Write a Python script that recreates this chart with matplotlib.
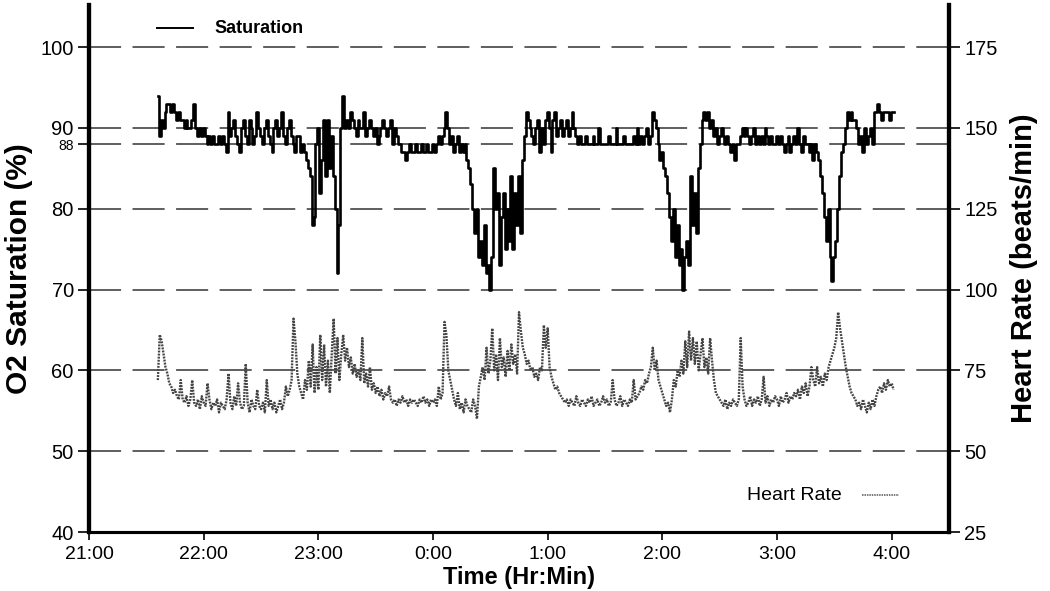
import numpy as np
import matplotlib
matplotlib.use('Agg')
import matplotlib.pyplot as plt

matplotlib.rcParams['font.family'] = ['Liberation Sans', 'DejaVu Sans']

# minutes after 21:00, one sample per minute (21:36 .. 4:01)
minutes = np.arange(36, 422)

# O2 saturation (%)
sat = [94, 89, 91, 90,
       92, 93, 93, 92, 93, 92, 91, 92, 91, 91,
       90, 91, 90, 90, 91, 93, 90, 89, 90, 89,
       90, 89, 88, 89, 88, 89, 88, 88, 89, 88,
       89, 88, 87, 92, 89, 90, 91, 89, 88, 87,
       90, 91, 89, 88, 91, 90, 88, 89, 92, 90,
       89, 88, 90, 91, 89, 88, 87, 90, 91, 89,
       90, 92, 89, 88, 90, 91, 89, 88, 87, 89,
       89, 87, 88, 87, 86, 85, 84, 78, 79, 88,
       90, 82, 86, 91, 84, 91, 85, 89, 84, 80,
       72, 78, 90, 94, 90, 91, 90, 92, 91, 90,
       89, 91, 90, 90, 92, 89, 90, 91, 90, 89,
       90, 88, 89, 90, 91, 90, 89, 90, 91, 88,
       90, 89, 88, 88, 87, 87, 86, 87, 88, 87,
       87, 88, 87, 87, 88, 87, 87, 88, 87, 87,
       88, 87, 88, 89, 88, 89, 90, 92, 90, 88,
       89, 87, 88, 89, 87, 88, 87, 88, 86, 85,
       83, 80, 77, 80, 74, 76, 73, 78, 72, 73,
       70, 74, 85, 80, 82, 73, 79, 82, 75, 80,
       76, 84, 75, 82, 78, 84, 77, 86, 89, 92,
       91, 90, 89, 88, 90, 91, 87, 90, 88, 91,
       92, 90, 87, 91, 92, 89, 90, 91, 89, 90,
       91, 89, 90, 92, 90, 89, 88, 89, 88, 88,
       89, 88, 88, 88, 89, 88, 88, 90, 88, 88,
       88, 88, 89, 88, 88, 88, 90, 88, 88, 88,
       89, 88, 88, 88, 88, 89, 88, 90, 88, 89,
       88, 89, 90, 88, 89, 92, 91, 90, 88, 86,
       87, 85, 84, 82, 79, 76, 80, 74, 78, 73,
       75, 70, 74, 76, 73, 84, 78, 82, 77, 85,
       88, 91, 92, 91, 92, 90, 91, 89, 90, 88,
       89, 90, 89, 88, 89, 88, 87, 88, 86, 88,
       88, 89, 90, 89, 90, 89, 88, 89, 90, 88,
       89, 88, 89, 88, 90, 89, 88, 89, 88, 88,
       89, 88, 89, 88, 87, 88, 89, 87, 88, 89,
       88, 90, 88, 87, 89, 88, 88, 87, 88, 86,
       88, 87, 86, 84, 82, 79, 76, 80, 74, 71,
       74, 76, 80, 84, 87, 88, 90, 92, 91, 92,
       91, 91, 90, 88, 89, 87, 90, 88, 89, 90,
       88, 92, 92, 93, 92, 91, 92, 92, 92, 91,
       92, 92]

# heart rate (beats/min)
hr = [72, 86, 84, 80,
      76, 74, 71, 70, 68, 69, 67, 66, 72, 66,
      65, 67, 64, 66, 72, 65, 64, 66, 63, 67,
      65, 64, 71, 66, 63, 65, 64, 66, 62, 65,
      64, 63, 66, 74, 65, 63, 67, 64, 71, 65,
      63, 64, 77, 65, 62, 66, 64, 63, 69, 64,
      63, 65, 62, 72, 64, 66, 63, 65, 62, 64,
      66, 63, 65, 70, 67, 69, 72, 91, 84, 74,
      70, 68, 66, 72, 69, 78, 70, 83, 68, 76,
      69, 86, 72, 83, 70, 78, 68, 80, 91, 74,
      85, 72, 80, 86, 78, 82, 76, 79, 74, 77,
      73, 75, 72, 85, 71, 74, 70, 76, 69, 71,
      68, 70, 67, 69, 66, 68, 67, 70, 66, 65,
      66, 64, 66, 65, 67, 65, 66, 64, 66, 65,
      66, 65, 64, 66, 65, 67, 65, 66, 64, 66,
      65, 66, 64, 70, 66, 68, 90, 86, 75, 72,
      69, 66, 64, 68, 63, 65, 62, 66, 64, 63,
      62, 66, 64, 60, 70, 73, 76, 72, 82, 74,
      78, 88, 75, 80, 72, 85, 76, 79, 73, 81,
      75, 83, 77, 80, 74, 93, 87, 82, 80, 77,
      78, 75, 76, 73, 74, 72, 76, 75, 89, 82,
      88, 76, 73, 71, 69, 70, 68, 67, 66, 65,
      66, 64, 66, 65, 64, 67, 65, 64, 66, 65,
      64, 66, 65, 67, 64, 65, 66, 64, 65, 67,
      65, 66, 64, 65, 72, 66, 64, 65, 67, 64,
      66, 65, 64, 66, 65, 72, 66, 67, 68, 70,
      69, 72, 71, 74, 76, 82, 75, 78, 72, 70,
      68, 66, 64, 65, 62, 66, 72, 70, 75, 73,
      78, 74, 84, 76, 87, 78, 85, 77, 84, 75,
      80, 85, 76, 79, 74, 85, 78, 72, 68, 67,
      66, 65, 64, 66, 63, 65, 64, 66, 65, 64,
      66, 85, 70, 66, 64, 65, 67, 64, 66, 65,
      67, 64, 66, 73, 65, 67, 64, 66, 65, 67,
      66, 64, 67, 65, 66, 68, 65, 67, 66, 68,
      67, 69, 66, 70, 68, 71, 67, 70, 76, 72,
      70, 76, 71, 73, 70, 74, 72, 76, 78, 80,
      82, 85, 93, 88, 84, 80, 76, 73, 70, 68,
      67, 66, 64, 65, 63, 66, 64, 62, 65, 63,
      66, 64, 67, 69, 70, 68, 71, 69, 72, 70,
      71, 69]

sat_ticks = [40, 50, 60, 70, 80, 90, 100]
hr_ticks = [25, 50, 75, 100, 125, 150, 175]
grid_levels = [50, 60, 70, 80, 88, 90, 100]
hour_labels = ['21:00', '22:00', '23:00', '0:00', '1:00', '2:00', '3:00', '4:00']

narrow = ['Liberation Sans Narrow', 'Liberation Sans', 'DejaVu Sans']

fig = plt.figure(figsize=(10.5, 5.91), dpi=100)
ax = fig.add_axes([0.0848, 0.0998, 0.819, 0.8917])
ax2 = ax.twinx()

y0, y1 = 40, 105.2
ax.set_ylim(y0, y1)
ax2.set_ylim(25 + (y0 - 40) * 2.5, 25 + (y1 - 40) * 2.5)
ax.set_xlim(0, 450)

for g in grid_levels:
    ax.axhline(g, color='#333333', lw=1.1, dashes=(21, 7.5), zorder=1)

ax.step(minutes, sat, where='mid', color='black', lw=1.9, zorder=3)
ax2.plot(minutes, hr, color='#444444', lw=1.7, ls=(0, (0.8, 0.5)), zorder=2)

ax.set_yticks(sat_ticks + [88])
ax.set_yticklabels([str(t) for t in sat_ticks] + ['88'])
for lab in ax.get_yticklabels():
    lab.set_fontsize(14.5)
    if lab.get_text() == '88':
        lab.set_fontsize(10)
ax2.set_yticks(hr_ticks)
ax2.set_yticklabels([str(t) for t in hr_ticks], fontsize=14.5)

ax.set_xticks(np.arange(0, 480, 60))
ax.set_xticklabels(hour_labels, fontsize=14, family=narrow)

ax.tick_params(axis='y', length=8, width=1.2, pad=3)
ax2.tick_params(axis='y', length=8, width=1.2, pad=3)
ax.tick_params(axis='x', length=6, width=1.2, pad=4)

for a in (ax, ax2):
    a.spines['top'].set_visible(False)
    a.spines['left'].set_linewidth(3)
    a.spines['right'].set_linewidth(3)
    a.spines['bottom'].set_linewidth(2.2)

ax.set_ylabel('O2 Saturation (%)', fontsize=21.5, fontweight='bold', labelpad=5)
ax2.set_ylabel('Heart Rate (beats/min)', fontsize=21, fontweight='bold',
               rotation=90, labelpad=9)
ax.set_xlabel('Time (Hr:Min)', fontsize=17, fontweight='bold', family=narrow, labelpad=2)

# legend entries
ax.plot([0.079, 0.121], [0.956, 0.956], color='black', lw=1.4, transform=ax.transAxes)
ax.text(0.146, 0.956, 'Saturation', transform=ax.transAxes, fontsize=13,
        fontweight='bold', va='center', ha='left')
ax.plot([0.899, 0.942], [0.070, 0.070], color='#555555', lw=1.1,
        ls=(0, (1, 0.6)), transform=ax.transAxes)
ax.text(0.875, 0.070, 'Heart Rate', transform=ax.transAxes, fontsize=14,
        family=narrow, va='center', ha='right')

fig.savefig('out.png', dpi=100)
